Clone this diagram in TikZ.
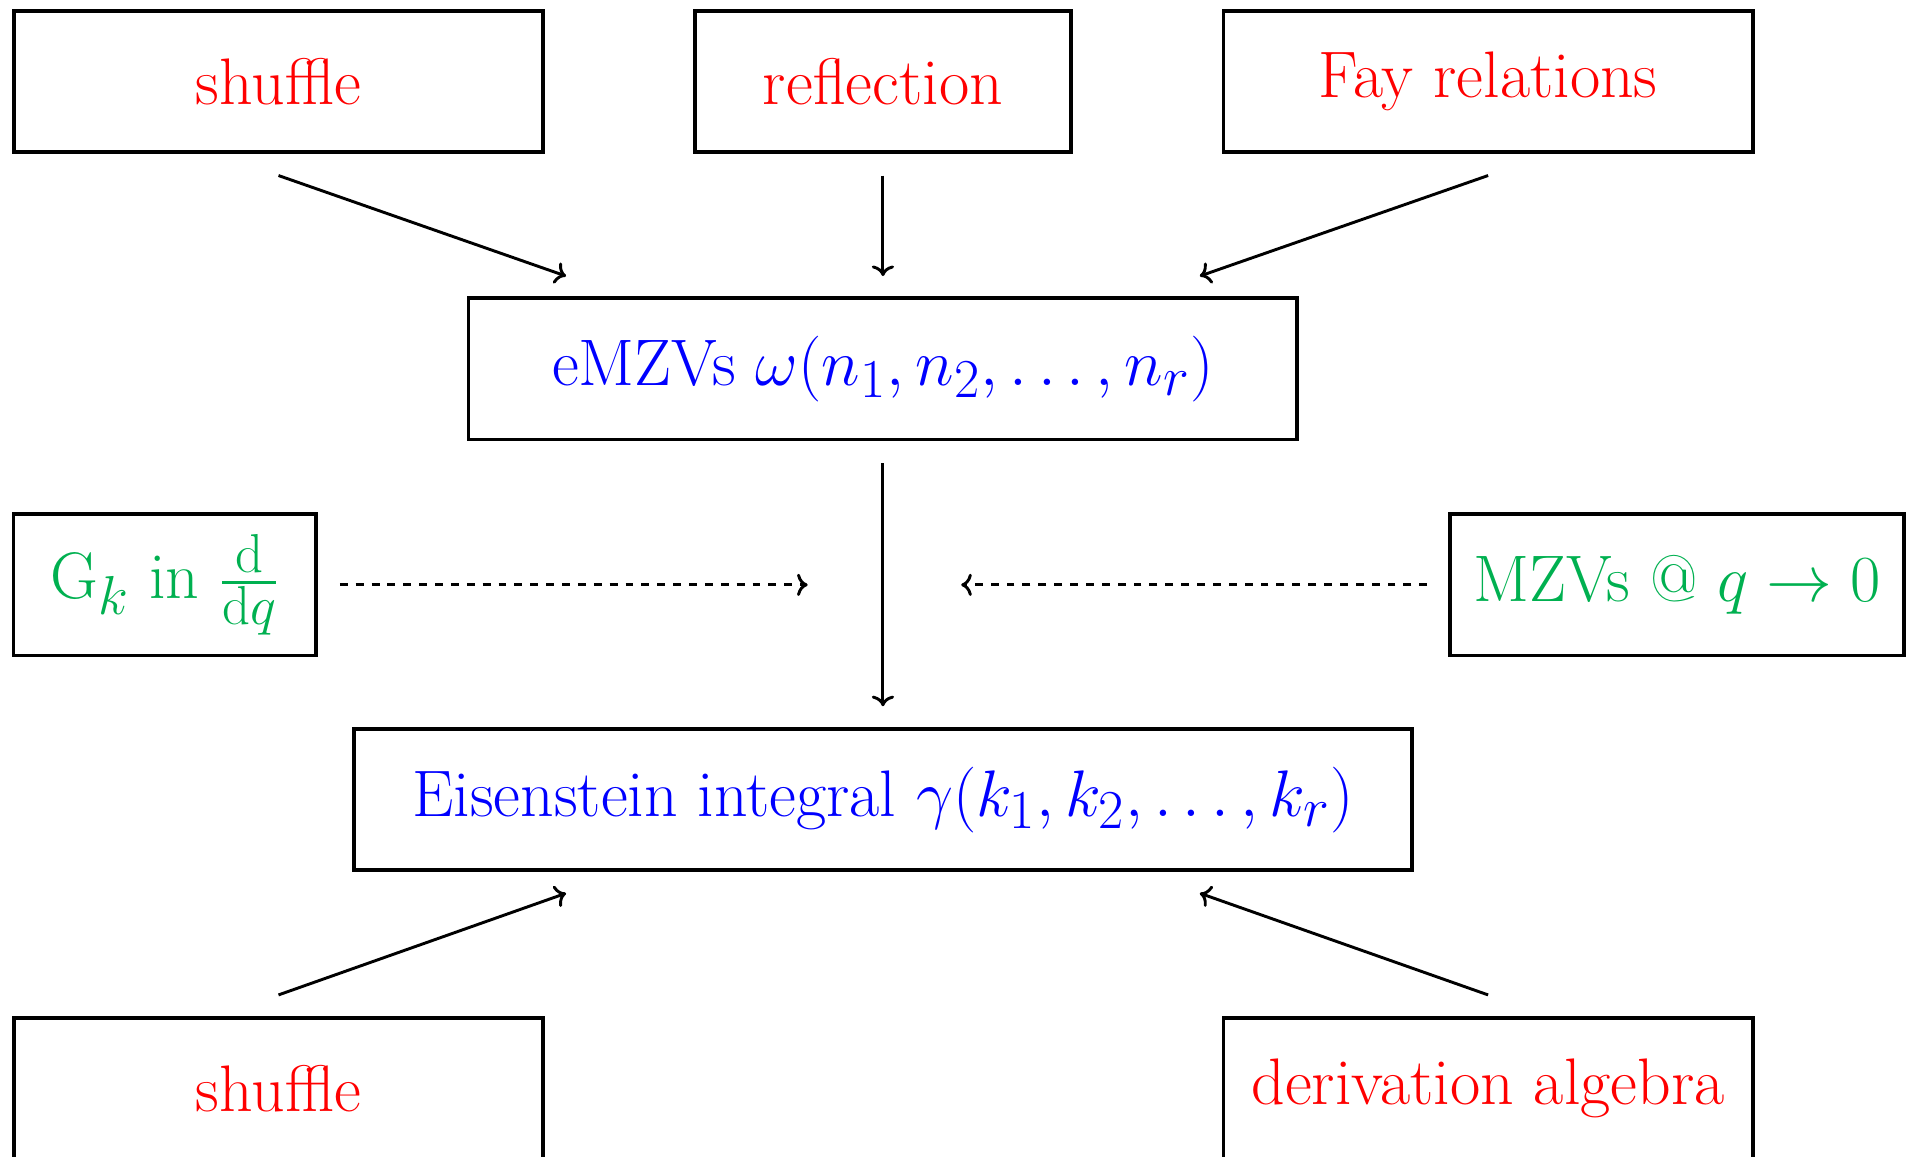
\documentclass[tikz,border=0pt]{standalone}
\usepackage{xcolor}
\usepackage{amsmath}
\usepackage{tikz}
\usetikzlibrary{arrows.meta, positioning, calc}
\definecolor{relred}{HTML}{FF0000}
\definecolor{valblue}{HTML}{0000FF}
\definecolor{limgreen}{HTML}{00B050}
\DeclareMathSizes{24.88}{24.88}{20.74}{17.28}

\begin{document}
\begin{tikzpicture}[
    font=\Huge,
    box/.style={draw, line width=1.4pt, minimum height=1.875cm, inner sep=0pt},
    rel/.style={box, text=relred},
    val/.style={box, text=valblue},
    lim/.style={box, text=limgreen},
    arr/.style={-{To}, line width=1.1pt}
  ]
  \useasboundingbox (0,0) rectangle (25.375,-15.37);
  % relations feeding the eMZVs
  \node[rel, minimum width=7.03cm] (shuf1) at (3.70,-1.08) {shuffle};
  \node[rel, minimum width=5.0cm] (refl) at (11.73,-1.08) {reflection};
  \node[rel, minimum width=7.03cm] (fay) at (19.77,-1.08) {Fay relations};
  \node[val, minimum width=11.01cm] (emzv) at (11.73,-4.90)
    {eMZVs $\omega(n_1,n_2,\ldots,n_r)$};
  % inputs on the sides
  \node[lim, minimum width=4.02cm] (gk) at (2.19,-7.77)
    {$\mathrm{G}_k$ in $\frac{\mathrm{d}}{\mathrm{d}q}$};
  \node[lim, minimum width=6.03cm] (mzv) at (22.28,-7.77) {MZVs @ $q\to 0$};
  \node[val, minimum width=14.06cm] (eis) at (11.73,-10.625)
    {Eisenstein integral $\gamma(k_1,k_2,\ldots,k_r)$};
  % relations feeding the Eisenstein integrals
  \node[rel, minimum width=7.03cm] (shuf2) at (3.70,-14.46) {shuffle};
  \node[rel, minimum width=7.03cm] (der) at (19.77,-14.46) {derivation algebra};

  \draw[arr] ([yshift=-2.9mm]shuf1.south) -- ([xshift=-4.21cm, yshift=2.7mm]emzv.north);
  \draw[arr] ([yshift=-2.9mm]refl.south) -- ([yshift=2.7mm]emzv.north);
  \draw[arr] ([yshift=-2.9mm]fay.south) -- ([xshift=4.21cm, yshift=2.7mm]emzv.north);
  \draw[arr] ([yshift=-2.9mm]emzv.south) -- ([yshift=2.8mm]eis.north);
  \coordinate (mid) at (gk.east -| eis.north);
  \draw[arr, dashed] ([xshift=2.9mm]gk.east) -- ([xshift=-1.0cm]mid);
  \draw[arr, dashed] ([xshift=-2.8mm]mzv.west) -- ([xshift=1.04cm]mid);
  \draw[arr] ([yshift=2.8mm]shuf2.north) -- ([xshift=-4.21cm, yshift=-2.8mm]eis.south);
  \draw[arr] ([yshift=2.8mm]der.north) -- ([xshift=4.21cm, yshift=-2.8mm]eis.south);
\end{tikzpicture}
\end{document}
